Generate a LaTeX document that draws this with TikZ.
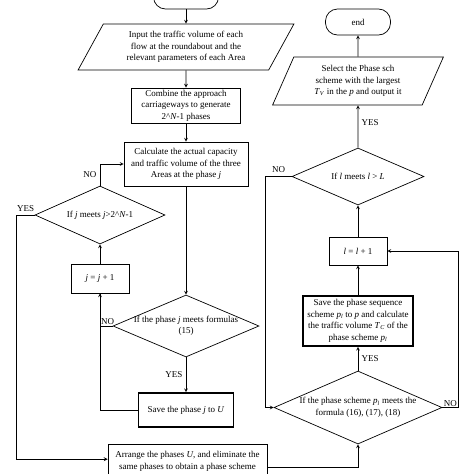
\documentclass[tikz,border=0pt]{standalone}
\usepackage{fontspec}
\setmainfont{Liberation Serif}
\usetikzlibrary{shapes.geometric}

\begin{document}
\begin{tikzpicture}[x=1pt,y=-1pt,font=\fontsize{9}{11.5}\selectfont,line width=0.7pt,
  box/.style={draw,align=center,inner sep=2pt},
  boldbox/.style={box,line width=1.6pt},
  io/.style={draw,trapezium,trapezium stretches=true,align=center,inner sep=1pt},
  test/.style={draw,diamond,inner sep=0pt},
  term/.style={draw,rounded corners=12pt,minimum width=65,minimum height=26}]
  \useasboundingbox (0,0) rectangle (474,474);
  \clip (0,0) rectangle (474,474);

  % left column
  \node[term] (start) at (186,-4) {};
  \node[io,trapezium left angle=61,trapezium right angle=119,minimum width=216,minimum height=46] (input) at (186,47)
    {Input the traffic volume of each\\flow at the roundabout and the\\relevant parameters of each Area};
  \node[box,minimum width=109,minimum height=35] (comb) at (186,105.5)
    {Combine the approach\\carriageways to generate\\2\^{}\textit{N}-1 phases};
  \node[box,minimum width=124,minimum height=44] (calc) at (186,164)
    {Calculate the actual capacity\\and traffic volume of the three\\Areas at the phase \textit{j}};
  \node[test,minimum width=130,minimum height=58,
    label=center:{If \textit{j} meets \textit{j}>2\^{}\textit{N}-1}] (ifj) at (100,215) {};
  \node[box,minimum width=58,minimum height=29] (jinc) at (100,278.5) {\textit{j} = \textit{j} + 1};
  \node[test,minimum width=146,minimum height=62,
    label={[align=center]center:{If the phase \textit{j} meets formulas\\(15)}}] (form) at (186,326) {};
  \node[boldbox,minimum width=95,minimum height=34] (savej) at (186,410) {Save the phase \textit{j} to \textit{U}};
  \node[box,anchor=north,inner xsep=4pt,inner ysep=7pt,minimum width=159] (arr) at (187.5,444)
    {Arrange the phases \textit{U}, and eliminate the\\same phases to obtain a phase scheme};

  % right column
  \node[term] (fin) at (358,22) {end};
  \node[io,trapezium left angle=66,trapezium right angle=114,minimum width=171,minimum height=48] (sel) at (358,81)
    {Select the Phase sch\\scheme with the largest\\\textit{T}\textsubscript{\textit{V}} in the \textit{p} and output it};
  \node[test,minimum width=132,minimum height=57,
    label=center:{If \textit{l} meets \textit{l} > \textit{L}}] (ifl) at (358,176.5) {};
  \node[box,minimum width=58,minimum height=28] (linc) at (358,251) {\textit{l} = \textit{l} + 1};
  \node[boldbox,minimum width=110,minimum height=50] (savep) at (358,321)
    {Save the phase sequence\\scheme \textit{p}\textsubscript{\textit{l}} to \textit{p} and calculate\\the traffic volume \textit{T}\textsubscript{\textit{C}} of the\\phase scheme \textit{p}\textsubscript{\textit{l}}};
  \node[test,minimum width=168,minimum height=73,
    label={[align=center]center:{If the phase scheme \textit{p}\textsubscript{\textit{l}} meets the\\formula (16), (17), (18)}}] (form2) at (358,407.5) {};

  \path[-stealth]
    (start) edge (input)
    (input) edge (comb)
    (comb) edge (calc)
    (calc) edge (form)
    (form) edge node[left] {YES} (savej)
    (jinc) edge (ifj)
    (form2) edge node[right] {YES} (savep)
    (savep) edge (linc)
    (linc) edge (ifl)
    (ifl) edge node[right,pos=0.6] {YES} (sel)
    (sel) edge (fin);

  \draw[-stealth] (ifj.north) |- node[pos=0.25,left] {NO} (calc.west);
  \draw[-stealth] (form.west) -| node[pos=0.2,above,inner sep=1pt] {NO} (jinc.south);
  \draw (savej.west) -| (jinc.south);
  \draw[-stealth] (ifj.west) -- node[above] {YES} ++(-18,0) |- ([yshift=2pt]arr.west);
  \draw[-stealth] ([yshift=-6pt]arr.east) -| (form2.south);
  \draw[-stealth] (ifl.west) -- node[above] {NO} ++(-26,0) |- (form2.west);
  \draw[-stealth] (form2.east) -- node[above,inner sep=1pt] {NO} ++(16,0) |- (linc.east);
\end{tikzpicture}
\end{document}
